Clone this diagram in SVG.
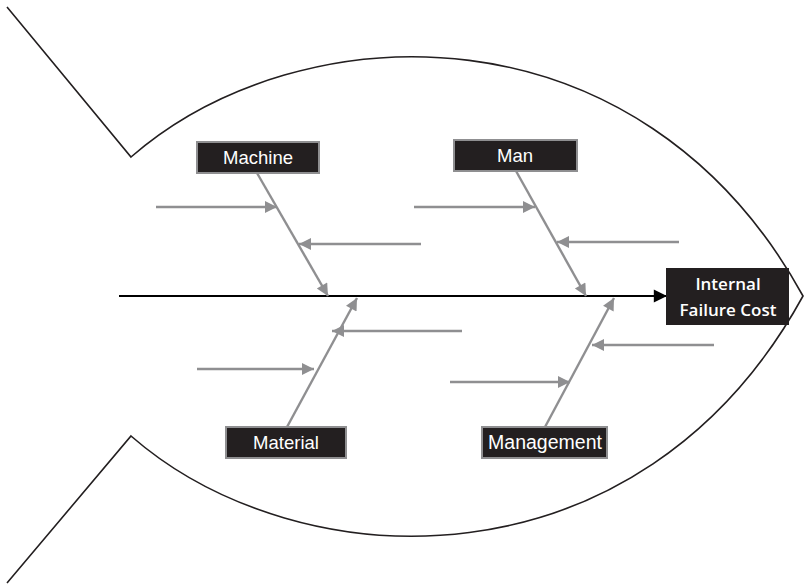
<svg xmlns="http://www.w3.org/2000/svg" width="804" height="586" viewBox="0 0 804 586">
<style>
.fish{fill:none;stroke:#231f20;stroke-width:1.6;stroke-linejoin:miter}
.br{stroke:#8f8f91;stroke-width:2.4;fill:none}
.box{fill:#231f20;stroke:#8f8f91;stroke-width:2}
.lbl{fill:#fff;font-family:"Liberation Sans",Arial,sans-serif;font-size:18.5px;text-anchor:middle}
.head{fill:#fff;font-family:"Open Sans","Liberation Sans",sans-serif;font-weight:600;font-size:17px;text-anchor:middle}
</style>
<defs>
<marker id="ga" viewBox="0 0 10 10" refX="10" refY="5" markerWidth="6" markerHeight="5" markerUnits="strokeWidth" orient="auto">
<path d="M0,0 L10,5 L0,10 z" fill="#8f8f91"/>
</marker>
<marker id="ba" viewBox="0 0 10 10" refX="10" refY="5" markerWidth="7" markerHeight="6" markerUnits="strokeWidth" orient="auto">
<path d="M0,0 L10,5 L0,10 z" fill="#000"/>
</marker>
</defs>
<g id="fish">
<path class="fish" d="M7,7 L131,157 C300,10 640,0 803,296 C640,593 300,583 131,436 L7,583"/>
</g>
<g id="connectors">
<line x1="119" y1="296" x2="667" y2="296" stroke="#000" stroke-width="2.2" marker-end="url(#ba)"/>
<line class="br" x1="257" y1="173" x2="328" y2="296" marker-end="url(#ga)"/>
<line class="br" x1="156" y1="207" x2="277" y2="207" marker-end="url(#ga)"/>
<line class="br" x1="421" y1="244" x2="299" y2="244" marker-end="url(#ga)"/>
<line class="br" x1="516" y1="171" x2="586" y2="296" marker-end="url(#ga)"/>
<line class="br" x1="414" y1="207" x2="535" y2="207" marker-end="url(#ga)"/>
<line class="br" x1="679" y1="242" x2="557" y2="242" marker-end="url(#ga)"/>
<line class="br" x1="287" y1="427" x2="357" y2="298" marker-end="url(#ga)"/>
<line class="br" x1="462" y1="331" x2="332" y2="331" marker-end="url(#ga)"/>
<line class="br" x1="197" y1="369" x2="314" y2="369" marker-end="url(#ga)"/>
<line class="br" x1="545" y1="427" x2="614" y2="298" marker-end="url(#ga)"/>
<line class="br" x1="714" y1="345" x2="592" y2="345" marker-end="url(#ga)"/>
<line class="br" x1="450" y1="382" x2="570" y2="382" marker-end="url(#ga)"/>
</g>
<g id="effect">
<rect x="666" y="268" width="123" height="57" fill="#231f20"/>
<text class="head" x="728" y="290">Internal</text>
<text class="head" x="728" y="316">Failure Cost</text>
</g>
<g id="machine">
<rect class="box" x="197" y="142" width="122" height="31"/>
<text class="lbl" x="258" y="164">Machine</text>
</g>
<g id="man">
<rect class="box" x="454" y="140" width="123" height="31"/>
<text class="lbl" x="515" y="162">Man</text>
</g>
<g id="material">
<rect class="box" x="226" y="427" width="120" height="31"/>
<text class="lbl" x="286" y="449">Material</text>
</g>
<g id="management">
<rect class="box" x="482" y="427" width="125" height="31"/>
<text class="lbl" x="545" y="449" style="font-size:19.5px">Management</text>
</g>
</svg>
